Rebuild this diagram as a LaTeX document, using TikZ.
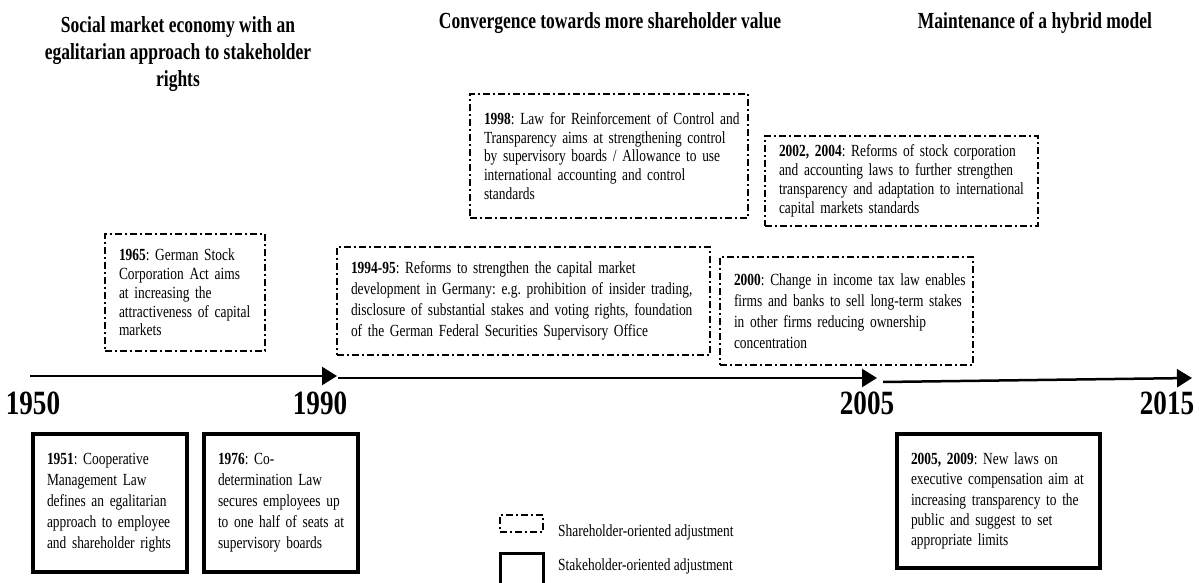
\documentclass[tikz,border=0pt]{standalone}
\usepackage{fontspec}
\setmainfont{Liberation Serif}[FakeStretch=0.79]
\newfontfamily\titlefont{Liberation Serif}[FakeStretch=0.76]
\newfontfamily\yearfont{Liberation Serif}[FakeStretch=0.8]
\usetikzlibrary{arrows.meta}
\tikzset{
  evbox/.style={align=left, inner xsep=-5pt, inner ysep=0pt,
    execute at begin node={\frenchspacing\leftskip=19pt\relax}},
  shbox/.style={evbox, draw, line width=1.8pt,
    dash pattern=on 7pt off 3pt on 2pt off 3pt,
    font=\fontsize{17}{18.8}\selectfont},
  shboxw/.style={shbox, font=\fontsize{17}{21}\selectfont},
  stbox/.style={evbox, draw, line width=3.2pt,
    font=\fontsize{17}{21}\selectfont},
  ttl/.style={font=\titlefont\bfseries\fontsize{23}{27}\selectfont, align=center, inner sep=0pt},
  yr/.style={font=\yearfont\bfseries\fontsize{34}{36}\selectfont, inner sep=0pt},
  tl/.style={line width=2.5pt, -{Triangle[length=15pt,width=18pt]}},
  legtxt/.style={font=\fontsize{17}{18}\selectfont, anchor=west, inner sep=0pt},
  legsh/.style={draw, line width=1.8pt, dash pattern=on 7pt off 3pt on 2pt off 3pt, inner sep=0pt},
  legst/.style={draw, line width=3pt, inner sep=0pt}
}
\begin{document}
\begin{tikzpicture}[x=1pt,y=-1pt]
\useasboundingbox (0,0) rectangle (1200,583);

% titles
\node[ttl] (t1) at (178,54) {Social market economy with an\\egalitarian approach to stakeholder\\rights};
\node[ttl] (t2) at (610,23) {Convergence towards more shareholder value};
\node[ttl] (t3) at (1035,23) {Maintenance of a hybrid model};

% shareholder-oriented (dash-dot) boxes
\node[shbox, text width=170pt, minimum height=117pt] (b1965) at (185,292.5)
  {\textbf{1965}: German Stock\\Corporation Act aims\\at increasing the\\attractiveness of capital\\markets};
\node[shboxw, text width=383pt, minimum height=108pt] (b1994) at (523.5,301)
  {\textbf{1994-95}: Reforms to strengthen the capital market\\development in Germany: e.g. prohibition of insider trading,\\disclosure of substantial stakes and voting rights, foundation\\of the German Federal Securities Supervisory Office};
\node[shbox, text width=288pt, minimum height=124pt] (b1998) at (609,156)
  {\textbf{1998}: Law for Reinforcement of Control and\\Transparency aims at strengthening control\\by supervisory boards / Allowance to use\\international accounting and control\\standards};
\node[shbox, text width=283pt, minimum height=90pt] (b2002) at (901.5,181)
  {\textbf{2002, 2004}: Reforms of stock corporation\\and accounting laws to further strengthen\\transparency and adaptation to international\\capital markets standards};
\node[shboxw, text width=263pt, minimum height=108pt] (b2000) at (846.5,311)
  {\textbf{2000}: Change in income tax law enables\\firms and banks to sell long-term stakes\\in other firms reducing ownership\\concentration};

% timeline
\coordinate (a1s) at (30,376);
\coordinate (a1e) at (337,376);
\coordinate (a2s) at (338,378);
\coordinate (a2e) at (877,378);
\coordinate (a3s) at (883,382);
\coordinate (a3e) at (1192,378);
\draw[tl] (a1s) -- (a1e);
\draw[tl] (a2s) -- (a2e);
\draw[tl] (a3s) -- (a3e);

\node[yr] (y1950) at (33,403) {1950};
\node[yr] (y1990) at (320,403) {1990};
\node[yr] (y2005) at (867,403) {2005};
\node[yr] (y2015) at (1167,403) {2015};

% stakeholder-oriented (solid) boxes
\node[stbox, text width=164pt, minimum height=138pt] (b1951) at (110,503)
  {\textbf{1951}: Cooperative\\Management Law\\defines an egalitarian\\approach to employee\\and shareholder rights};
\node[stbox, text width=164pt, minimum height=138pt] (b1976) at (281,503)
  {\textbf{1976}: Co-\\determination Law\\secures employees up\\to one half of seats at\\supervisory boards};
\node[stbox, text width=213pt, minimum height=134pt, font=\fontsize{17}{20.3}\selectfont] (b2005) at (998.5,501)
  {\textbf{2005, 2009}: New laws on\\executive compensation aim at\\increasing transparency to the\\public and suggest to set\\appropriate limits};

% legend
\node[legsh, minimum width=43pt, minimum height=17pt] (lsh) at (521.5,523.5) {};
\node[legtxt] (lsht) at (558,532) {Shareholder-oriented adjustment};
\node[legst, minimum width=43pt, minimum height=42pt] (lst) at (521.5,574) {};
\node[legtxt] (lstt) at (558,566) {Stakeholder-oriented adjustment};
\end{tikzpicture}
\end{document}
